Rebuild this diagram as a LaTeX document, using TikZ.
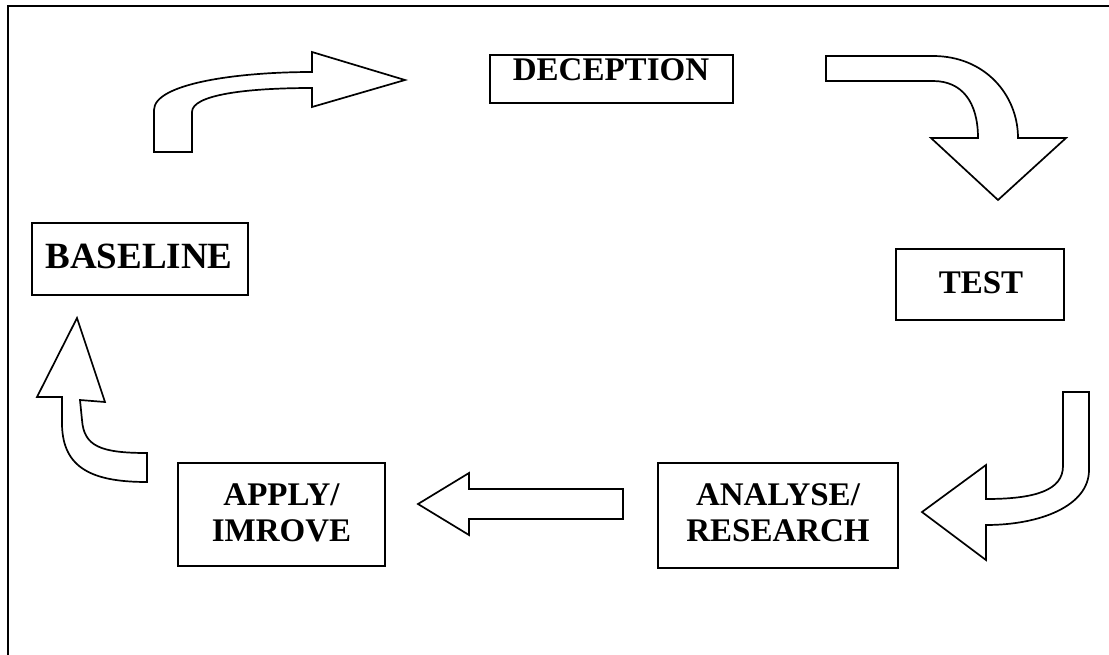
\documentclass[tikz,border=0pt]{standalone}
\usepackage{fontspec}
\setmainfont{Liberation Serif}
\begin{document}
\begin{tikzpicture}[x=1pt,y=-1pt,
  stagebox/.style={draw=black,line width=1.9pt},
  stagetext/.style={anchor=base,inner sep=0pt,font=\fontsize{33}{38}\selectfont\bfseries},
  blockarrow/.style={draw=black,fill=white,line width=1.7pt,line join=miter}]
\useasboundingbox (0,0) rectangle (1109,654);
\begin{scope}
\clip (0,0) rectangle (1109,654);
% outer frame, running off the right and bottom edges
\draw[line width=2.2pt] (8,700) -- (8,6) -- (1150,6);
\end{scope}

% stage boxes
\draw[stagebox] (490,55) rectangle (733,103);
\node[stagetext] (deception) at (611,80) {DECEPTION};

\draw[stagebox] (896,249) rectangle (1064,320);
\node[stagetext] (test) at (981,293) {TEST};

\draw[stagebox] (32,223) rectangle (248,295);
\node[stagetext,font=\fontsize{37}{40}\selectfont\bfseries] (baseline) at (139,268) {BASELINE};

\draw[stagebox] (658,463) rectangle (898,568);
\node[stagetext] (analyse) at (778,505) {ANALYSE/};
\node[stagetext] (research) at (778,541) {RESEARCH};

\draw[stagebox] (178,463) rectangle (385,566);
\node[stagetext] (apply) at (281.5,505) {APPLY/};
\node[stagetext] (improve) at (281.5,541) {IMROVE};

% baseline -> deception: bent arrow up and to the right
\draw[blockarrow] (154,152) -- (154,110)
  .. controls (154,84) and (235,72) .. (312,72)
  -- (312,52) -- (405,80) -- (312,107) -- (312,88)
  .. controls (245,88) and (192,95) .. (192,112)
  -- (192,152) -- cycle;

% deception -> test: bent arrow right and down
\draw[blockarrow] (826,56) -- (933,56)
  .. controls (985,56) and (1018,95) .. (1018,138)
  -- (1066,138) -- (998,200) -- (931,138) -- (978,138)
  .. controls (978,102) and (962,81) .. (933,81)
  -- (826,81) -- cycle;

% test -> analyse: bent arrow down and to the left
\draw[blockarrow] (1063,392) -- (1089,392) -- (1089,470)
  .. controls (1089,506) and (1040,525) .. (986,525)
  -- (986,560) -- (922,512) -- (986,465) -- (986,499)
  .. controls (1036,499) and (1063,490) .. (1063,466)
  -- cycle;

% analyse -> apply: straight arrow to the left
\draw[blockarrow] (623,489) -- (469,489) -- (469,473) -- (418,504)
  -- (469,535) -- (469,519) -- (623,519) -- cycle;

% apply -> baseline: curved arrow up
\draw[blockarrow] (147,482) -- (147,453)
  .. controls (100,453) and (84,446) .. (82,420)
  -- (80,400) -- (105,402) -- (77,318) -- (37,397) -- (62,397)
  -- (62,425) .. controls (63,468) and (92,482) .. (147,482)
  -- cycle;
\end{tikzpicture}
\end{document}
